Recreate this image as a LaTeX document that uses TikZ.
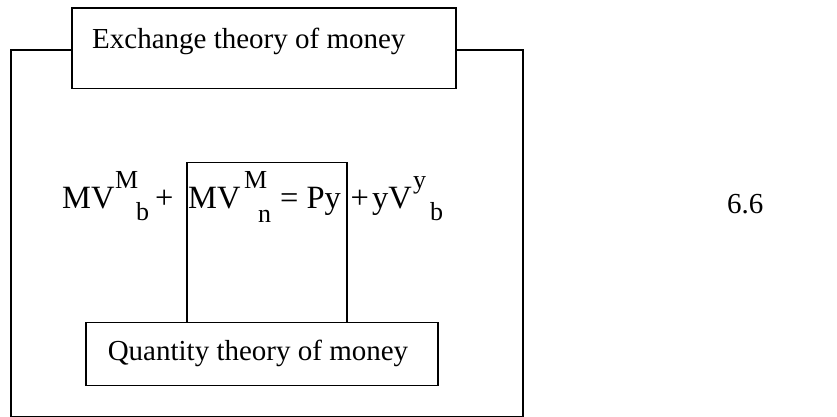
\documentclass[tikz,border=0pt]{standalone}
\usepackage{fontspec}
\setmainfont{Liberation Serif}
\begin{document}
\begin{tikzpicture}[x=1pt,y=-1pt,
  frame/.style={draw=black,line width=1.5pt},
  boxnode/.style={frame,fill=white,inner sep=0pt,anchor=north west},
  txt/.style={inner sep=0pt,anchor=base west,font=\fontsize{29}{34}\selectfont},
  eqbig/.style={inner sep=0pt,anchor=base west,font=\fontsize{32.5}{38}\selectfont},
  eqsmall/.style={inner sep=0pt,anchor=base west,font=\fontsize{26}{30}\selectfont},
  eqsub/.style={inner sep=0pt,anchor=base west,font=\fontsize{26}{30}\selectfont}]
\useasboundingbox (0,0) rectangle (837,417);
% outer frame
\node[boxnode,fill=none,minimum width=512pt,minimum height=366.5pt] (outer) at (10,49.3) {};
% top box
\node[boxnode,minimum width=384pt,minimum height=80.5pt] (top) at (71,7.5) {};
\node[txt] (toptext) at (92,49) {Exchange theory of money};
% inner box
\node[boxnode,fill=none,minimum width=160pt,minimum height=160.2pt] (inner) at (186,161.5) {};
% quantity box
\node[boxnode,minimum width=352pt,minimum height=63pt] (qty) at (85,321.7) {};
\node[txt,anchor=base] (qtytext) at (258,360) {Quantity theory of money};
% equation
\node[eqbig] (e1) at (62,208) {MV};
\node[eqsmall] (s1) at (115,188) {M};
\node[eqsub] (b1) at (136,220) {b};
\node[eqbig] (p1) at (155,208) {+};
\node[eqbig] (e2) at (188,208) {MV};
\node[eqsmall] (s2) at (244,188) {M};
\node[eqsub] (n2) at (258,222) {n};
\node[eqbig] (e3) at (280,208) {= Py};
\node[eqbig] (p2) at (350.5,208) {+};
\node[eqbig] (e4) at (372,208) {yV};
\node[eqsmall] (s4) at (413,188) {y};
\node[eqsub] (b4) at (430,220) {b};
% equation number
\node[txt] (num) at (727,213) {6.6};
\end{tikzpicture}
\end{document}
